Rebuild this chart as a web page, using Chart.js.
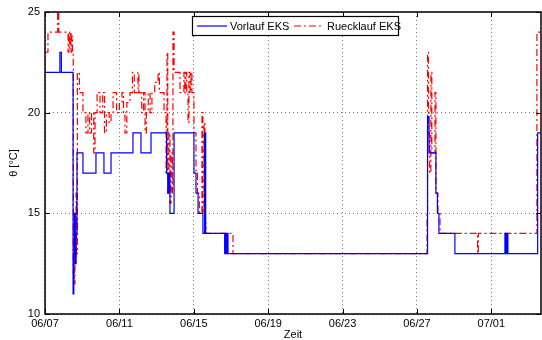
<!DOCTYPE html>
<html>
<head>
<meta charset="utf-8">
<script src="https://cdn.jsdelivr.net/npm/chart.js@4.4.1/dist/chart.umd.min.js"></script>
<style>
  html, body { margin: 0; padding: 0; background: #fff; }
  #wrap { width: 542px; height: 340px; }
</style>
</head>
<body>
<div id="wrap"><canvas id="chart"></canvas></div>
<script>
// days since 06/07 00:00
const xTickDays = [0, 4, 8, 12, 16, 20, 24];
const xTickLabels = ['06/07', '06/11', '06/15', '06/19', '06/23', '06/27', '07/01'];
const yTicks = [10, 15, 20, 25];

const vorlaufDays = [0, 0.80, 0.88, 1.51, 1.55, 1.59, 1.63, 1.67, 1.72, 2.04, 2.74, 3.17, 3.55,
  4.73, 5.16, 5.70, 6.54, 6.60, 6.66, 6.72, 6.94, 8.01, 8.12, 8.23, 8.49, 8.58, 8.64,
  9.66, 9.69, 9.72, 9.75, 9.78, 9.81, 9.84, 20.57, 20.65, 21.02, 21.10, 21.18, 22.04,
  24.73, 24.76, 24.79, 24.82, 24.85, 24.89, 26.49, 26.67];
const vorlaufTemp = [22, 23, 22, 11, 13, 15, 12.5, 14, 18, 17, 18, 17, 18,
  19, 18, 19, 17, 16, 17, 15, 19, 17, 16, 15, 14, 19, 14,
  13, 14, 13, 14, 13, 14, 13, 19.8, 18, 16, 15, 14, 13,
  14, 13, 14, 13, 14, 13, 19, 19];

const ruecklaufDays = [0, 0.16, 0.68, 0.74, 1.24, 1.28, 1.32, 1.36, 1.40, 1.44, 1.48,
  1.52, 1.55, 1.58, 1.61, 1.64, 1.67, 1.70, 1.74, 1.85, 2.04, 2.20, 2.31, 2.40, 2.50,
  2.62, 2.69, 2.80, 2.96, 3.10, 3.20, 3.30, 3.45, 3.55, 3.66, 3.85, 4.00, 4.14, 4.22,
  4.30, 4.40, 4.57, 4.70, 4.80, 5.00, 5.05, 5.20, 5.30, 5.38, 5.45, 5.55, 5.65, 5.75,
  5.90, 6.08, 6.15, 6.40, 6.51, 6.56, 6.60, 6.66, 6.72, 6.78, 6.85, 6.88, 6.94, 7.26,
  7.47, 7.52, 7.57, 7.62, 7.69, 7.74, 7.80, 7.85, 7.90, 8.01, 8.12, 8.20, 8.30, 8.44,
  8.49, 8.55, 8.60, 8.66, 10.11, 20.54, 20.57, 20.62, 20.68, 20.75, 20.80, 20.97, 21.02,
  21.13, 21.24, 23.26, 23.30, 26.45, 26.67];
const ruecklaufTemp = [23, 24, 25.5, 24, 23, 24, 23.2, 24, 23, 23.8, 23,
  12, 15, 11.5, 14, 12.5, 16, 13, 22, 21, 20, 19, 20, 19, 20,
  18, 20, 21, 20, 21, 19, 20, 19.5, 20, 21, 20, 20.5, 21, 20,
  19, 20.5, 21, 22, 21, 22, 21, 20, 21, 19, 20, 21, 20, 21,
  21.5, 22, 21, 20, 17, 23, 16, 19, 15.5, 18, 16, 24, 22, 21,
  22, 21, 22, 21, 19.5, 22, 21, 22, 21, 19, 17, 16, 15, 20,
  15, 19.5, 14.5, 14, 13, 15, 23, 19, 17, 22, 18, 21, 16,
  15, 14, 13, 14, 24, 24];

const toPoints = (xs, ys) => xs.map((x, i) => ({ x: x, y: ys[i] }));

const FONT = 'Liberation Sans, Arial, sans-serif';

const frame = {
  id: 'frame',
  afterDraw(chart) {
    const { ctx, chartArea: a, scales } = chart;
    ctx.save();
    // axes box
    ctx.strokeStyle = '#000';
    ctx.lineWidth = 1.5;
    ctx.strokeRect(a.left, a.top, a.right - a.left, a.bottom - a.top);
    // inward ticks
    ctx.lineWidth = 1;
    ctx.beginPath();
    xTickDays.forEach(d => {
      const x = Math.round(scales.x.getPixelForValue(d)) + 0.5;
      ctx.moveTo(x, a.bottom); ctx.lineTo(x, a.bottom - 5);
      ctx.moveTo(x, a.top); ctx.lineTo(x, a.top + 5);
    });
    yTicks.forEach(v => {
      const y = Math.round(scales.y.getPixelForValue(v)) + 0.5;
      ctx.moveTo(a.left, y); ctx.lineTo(a.left + 5, y);
      ctx.moveTo(a.right, y); ctx.lineTo(a.right - 5, y);
    });
    ctx.stroke();

    // legend
    ctx.fillStyle = '#fff';
    ctx.fillRect(192.5, 16.5, 206, 19);
    ctx.strokeStyle = '#000';
    ctx.lineWidth = 1.2;
    ctx.strokeRect(192.5, 16.5, 206, 19);
    ctx.strokeStyle = '#0000ff';
    ctx.beginPath(); ctx.moveTo(197, 26); ctx.lineTo(227, 26); ctx.stroke();
    ctx.strokeStyle = '#ff0000';
    ctx.setLineDash([7, 3, 2, 3]);
    ctx.beginPath(); ctx.moveTo(294, 26); ctx.lineTo(323, 26); ctx.stroke();
    ctx.setLineDash([]);
    ctx.fillStyle = '#000';
    ctx.font = '11px ' + FONT;
    ctx.textBaseline = 'middle';
    ctx.fillText('Vorlauf EKS', 230, 26.5);
    ctx.fillText('Ruecklauf EKS', 327, 26.5);
    ctx.restore();
  }
};

new Chart(document.getElementById('chart'), {
  type: 'line',
  data: {
    datasets: [
      {
        label: 'Vorlauf EKS',
        data: toPoints(vorlaufDays, vorlaufTemp),
        borderColor: '#0000ff',
        borderWidth: 1.2,
        stepped: 'before',
        pointRadius: 0
      },
      {
        label: 'Ruecklauf EKS',
        data: toPoints(ruecklaufDays, ruecklaufTemp),
        borderColor: '#ff0000',
        borderWidth: 1.2,
        borderDash: [7, 3, 2, 3],
        stepped: 'before',
        pointRadius: 0
      }
    ]
  },
  options: {
    responsive: true,
    maintainAspectRatio: false,
    animation: false,
    layout: { padding: { top: 12, right: 1, left: 0, bottom: 0 } },
    plugins: {
      legend: { display: false },
      tooltip: { enabled: false }
    },
    scales: {
      x: {
        type: 'linear',
        min: 0,
        max: 26.67,
        afterBuildTicks: s => { s.ticks = xTickDays.map(v => ({ value: v })); },
        afterFit: s => { s.height = 26; },
        border: { display: false, dash: [1, 3] },
        grid: { color: '#777', drawTicks: false, lineWidth: 1 },
        ticks: {
          padding: 3,
          color: '#000',
          font: { family: FONT, size: 11 },
          maxRotation: 0,
          callback: v => xTickLabels[xTickDays.indexOf(v)]
        },
        title: {
          display: true,
          text: 'Zeit',
          color: '#000',
          font: { family: FONT, size: 11 },
          padding: { top: 0, bottom: -2 }
        }
      },
      y: {
        min: 10,
        max: 25,
        afterBuildTicks: s => { s.ticks = yTicks.map(v => ({ value: v })); },
        afterFit: s => { s.width = 45; },
        border: { display: false, dash: [1, 3] },
        grid: { color: '#777', drawTicks: false, lineWidth: 1 },
        ticks: {
          padding: 5,
          color: '#000',
          font: { family: FONT, size: 11 }
        },
        title: {
          display: true,
          text: 'θ [°C]',
          color: '#000',
          font: { family: FONT, size: 11 },
          padding: { top: 7, bottom: 0 }
        }
      }
    }
  },
  plugins: [frame]
});
</script>
</body>
</html>
